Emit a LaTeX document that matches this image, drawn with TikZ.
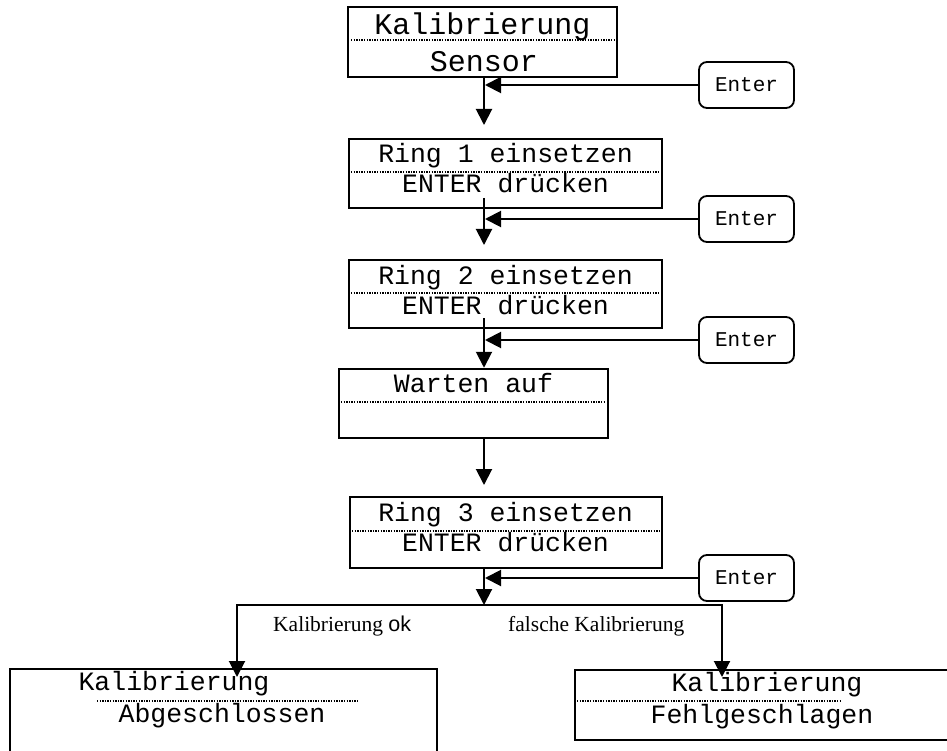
\documentclass[tikz,border=0pt]{standalone}
\usepackage{fontspec}
\setmainfont{Liberation Serif}
\newfontfamily\lcdfont{Liberation Mono}
\newfontfamily\okfont{Liberation Sans}
\usetikzlibrary{arrows.meta}
\tikzset{
    display-box/.style = {draw, line width=2.5pt, rectangle, inner sep=0pt},
    display-rule/.style = {line width=1.3pt, dash pattern=on 1.3pt off 1.3pt},
    display-text/.style = {font=\lcdfont\fontsize{26.5}{30}\selectfont, anchor=base, inner sep=0pt},
    title-text/.style = {display-text, font=\lcdfont\fontsize{30}{34}\selectfont},
    key-box/.style = {draw, line width=1.8pt, rounded corners=8pt, minimum width=95pt, minimum height=46pt, inner sep=0pt, font=\lcdfont\fontsize{21}{24}\selectfont},
    flow/.style = {line width=2pt, -{Triangle[length=16pt,width=16pt]}},
    branch-label/.style = {font=\fontsize{21.5}{24}\selectfont, anchor=base west, inner sep=0pt},
}

\begin{document}
\begin{tikzpicture}[x=1pt, y=-1pt]
\useasboundingbox (0,0) rectangle (947,751);
\clip (0,0) rectangle (947,751);
\coordinate (spine) at (484,0);

\node [display-box, minimum width=269pt, minimum height=70pt] (sensor) at (482.5,42) {};
\draw [display-rule] (351,40) -- (615,40);
\node [title-text] (sensor-top) at (482.5,35) {Kalibrierung};
\node [title-text] (sensor-bottom) at (484,72) {Sensor};

\node [display-box, minimum width=313pt, minimum height=69pt] (ring1) at (505.5,173.5) {};
\draw [display-rule] (351,172) -- (660,172);
\node [display-text] (ring1-top) at (505.5,163) {Ring 1 einsetzen};
\node [display-text] (ring1-bottom) at (505.5,193) {ENTER drücken};

\node [display-box, minimum width=313pt, minimum height=68pt] (ring2) at (505.5,294) {};
\draw [display-rule] (351,293) -- (660,293);
\node [display-text] (ring2-top) at (505.5,284) {Ring 2 einsetzen};
\node [display-text] (ring2-bottom) at (505.5,314) {ENTER drücken};

\node [display-box, minimum width=269pt, minimum height=69pt] (wait) at (473.5,403.5) {};
\draw [display-rule] (341,402) -- (606,402);
\node [display-text] (wait-top) at (473.5,392) {Warten auf};

\node [display-box, minimum width=312pt, minimum height=71pt] (ring3) at (506,532.5) {};
\draw [display-rule] (352,531) -- (660,531);
\node [display-text] (ring3-top) at (505.5,521) {Ring 3 einsetzen};
\node [display-text] (ring3-bottom) at (505.5,551) {ENTER drücken};

\node [display-box, minimum width=427pt, minimum height=131pt] (done) at (223.5,734.5) {};
\draw [display-rule] (97,701) -- (358,701);
\node [display-text] (done-top) at (174,690) {Kalibrierung};
\node [display-text] (done-bottom) at (222,722) {Abgeschlossen};

\node [display-box, minimum width=425pt, minimum height=70pt] (failed) at (787.5,705) {};
\draw [display-rule] (577,701) -- (840,701);
\node [display-text] (failed-top) at (767,691) {Kalibrierung};
\node [display-text] (failed-bottom) at (762,723) {Fehlgeschlagen};

\node [key-box] (enter1) at (746.5,85) {Enter};
\node [key-box] (enter2) at (746.5,219) {Enter};
\node [key-box] (enter3) at (746.5,340) {Enter};
\node [key-box] (enter4) at (746.5,578) {Enter};

\coordinate (step1) at (484,125);
\coordinate (start2) at (484,198);
\coordinate (step2) at (484,245);
\coordinate (start3) at (484,318);
\coordinate (step4) at (484,485);
\coordinate (fork) at (484,605);
\coordinate (ok-end) at (237,677);
\coordinate (fail-end) at (722,677);

\draw [flow] (sensor.south -| spine) -- (step1);
\draw [flow] (start2) -- (step2);
\draw [flow] (start3) -- (wait.north -| spine);
\draw [flow] (wait.south -| spine) -- (step4);
\draw [flow] (ring3.south -| spine) -- (fork);
\draw [flow] (fork) -| (ok-end);
\draw [flow] (fork) -| (fail-end);

\foreach \k in {1,...,4}
    \draw [flow] (enter\k.west) -- ([xshift=1pt]enter\k.west -| spine);

\node [branch-label] (ok-label) at (273,631) {Kalibrierung {\okfont ok}};
\node [branch-label] (fail-label) at (508,631) {falsche Kalibrierung};
\end{tikzpicture}
\end{document}
